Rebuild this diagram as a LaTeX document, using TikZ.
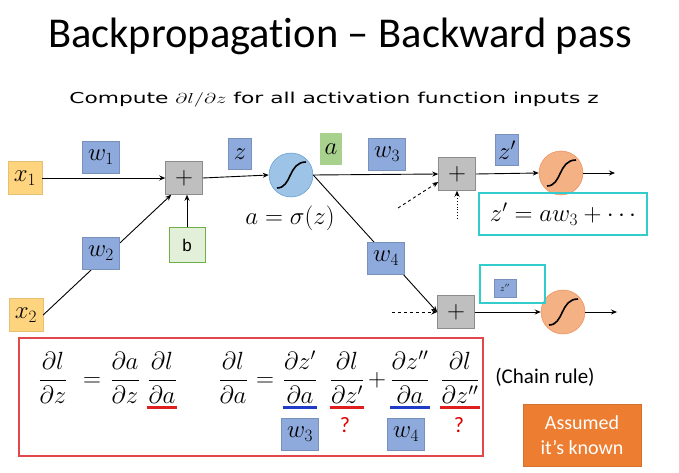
\documentclass[tikz,border=0pt]{standalone}
\usepackage{fontspec}
\setmainfont{Carlito}[Ligatures=NoCommon]
\newfontfamily\arialf{Liberation Sans}
\newfontfamily\subf{DejaVu Sans}
\usetikzlibrary{arrows.meta,calc}
\definecolor{wblue}{HTML}{8EA9DB}
\definecolor{xorange}{HTML}{FFD47F}
\definecolor{plusgray}{HTML}{BFBFBF}
\definecolor{bgreen}{HTML}{E2F0D9}
\definecolor{bgreenb}{HTML}{70AD47}
\definecolor{agreen}{HTML}{A9D18E}
\definecolor{sblue}{HTML}{9DC3E6}
\definecolor{sblueb}{HTML}{5B9BD5}
\definecolor{sorange}{HTML}{F4B183}
\definecolor{sorangeb}{HTML}{F08C5A}
\definecolor{cyanb}{HTML}{33CCCC}
\definecolor{redbox}{HTML}{E2474C}
\definecolor{ulred}{HTML}{E01E1E}
\definecolor{ulblue}{HTML}{1E3CC8}
\definecolor{assumed}{HTML}{ED7D31}
\definecolor{qred}{HTML}{E00000}
\newcommand{\mathbig}{\fontsize{24}{28}\selectfont}
\newcommand{\fracsize}{\fontsize{24}{28}\selectfont}
\begin{document}
\begin{tikzpicture}[x=1pt,y=-1pt,
  wbox/.style={fill=wblue,draw=wblue!85!black,line width=0.3pt,minimum width=37pt,minimum height=32pt,inner sep=0pt,font=\mathbig},
  xbox/.style={fill=xorange,draw=xorange!90!black,line width=0.3pt,minimum width=34pt,minimum height=33pt,inner sep=0pt,font=\mathbig},
  plusbox/.style={fill=plusgray,draw=black!45,line width=0.5pt,minimum width=37pt,minimum height=33pt,inner sep=0pt,font=\mathbig},
  sig/.style={circle,draw=sblueb,fill=sblue,line width=0.5pt,minimum size=44pt,inner sep=0pt},
  sigo/.style={circle,draw=sorangeb,fill=sorange,line width=0.5pt,minimum size=44pt,inner sep=0pt},
  arr/.style={-{Stealth[length=6pt,width=5pt]},line width=0.9pt},
  cyanbox/.style={draw=cyanb,line width=2.5pt,inner sep=0pt},
  frac/.style={anchor=base,inner sep=0pt,font=\fracsize},
  ulr/.style={draw=ulred,line width=2.5pt},
  ulb/.style={draw=ulblue,line width=2.5pt},
  qmark/.style={text=qred,font=\fontsize{22}{24}\selectfont}
]
\useasboundingbox (0,0) rectangle (679,473);
\fill[white] (0,0) rectangle (679,473);

% title
\node[font=\fontsize{42.5}{46}\selectfont] (title) at (340,36) {Backpropagation -- Backward pass};
\node[font=\subf\fontsize{15}{17}\selectfont] (sub) at (334,100) {\scalebox{1.45}[1]{Compute $\partial l/\partial z$ for all activation function inputs z}};

% nodes
\node[xbox] (x1) at (25,178) {$x_1$};
\node[xbox] (x2) at (26,315) {$x_2$};
\node[plusbox] (p1) at (184,178) {$+$};
\node[draw=bgreenb,fill=bgreen,line width=0.5pt,minimum width=36pt,minimum height=35pt,inner sep=0pt,font=\arialf\fontsize{17}{20}\selectfont] (b) at (187,245) {b};
\node[sig] (s1) at (291,175) {};
\node[plusbox] (p2) at (457,174) {$+$};
\node[sigo] (s2) at (561,173) {};
\node[plusbox] (p3) at (456,312) {$+$};
\node[sigo] (s3) at (563,312) {};
\coordinate (o2) at (615,173);
\coordinate (o3) at (617,312);
\coordinate (d1) at (398,208);
\coordinate (d2) at (457,219);
\coordinate (d3) at (392,312);

% sigmoid curves
\foreach \s in {s1,s2,s3}{
  \draw[line width=1.6pt] ([shift={(-14,13)}]\s.center) .. controls ([shift={(1,13)}]\s.center) and ([shift={(-3,-13)}]\s.center) .. ([shift={(15,-13)}]\s.center);
}

% connectors
\draw[arr] (x1) -- (p1);
\draw[arr] (x2.east) -- ([xshift=6pt]p1.south west);
\draw[arr] (b.north) -- (b.north |- p1.south);
\draw[arr] (p1.east) -- (s1.west);
\draw[arr] (s1.east) -- (p2.west);
\draw[arr] (s1.east) -- (p3.west);
\draw[arr,dashed] (d1) -- ([yshift=-8pt]p2.west);
\draw[arr,dotted] (d2) -- (p2.south);
\draw[arr] (p2.east) -- (s2.west);
\draw[arr] (s2.east) -- (o2);
\draw[arr,dashed] (d3) -- (p3.west);
\draw[arr] (p3.east) -- (s3.west);
\draw[arr] (s3.east) -- (o3);

% labels
\node[wbox] (w1) at (101,157) {$w_1$};
\node[wbox] (w2) at (101,253) {$w_2$};
\node[wbox,minimum width=23pt,minimum height=31pt] (z) at (240,154) {$z$};
\node[fill=agreen,minimum width=22pt,minimum height=32pt,inner sep=0pt,font=\mathbig] (a) at (331,149) {$a$};
\node[font=\mathbig] (aeq) at (290,218) {$a=\sigma(z)$};
\node[wbox] (w3) at (387,154) {$w_3$};
\node[wbox] (w4) at (386,258) {$w_4$};
\node[wbox,minimum width=23pt,minimum height=31pt] (zp) at (507,150) {$z'$};
\node[cyanbox,minimum width=168pt,minimum height=42pt,font=\mathbig] (zpeq) at (563,214) {$z' = aw_3 + \cdots$};
\node[cyanbox,minimum width=65pt,minimum height=38pt] (zppbox) at (512.5,284) {};
\node[wbox,minimum width=22pt,minimum height=18pt,font=\fontsize{9}{10}\selectfont] (zpp) at (505,288) {$z''$};

% chain rule box
\node[draw=redbox,line width=2.5pt,minimum width=464pt,minimum height=118pt,inner sep=0pt] (rbox) at (251,397) {};
\node[frac] (f1) at (53,386) {$\displaystyle\frac{\partial l}{\partial z}$};
\node[frac] (e1) at (92,386) {$=$};
\node[frac] (f2) at (125,386) {$\displaystyle\frac{\partial a}{\partial z}$};
\node[frac] (f3) at (162,386) {$\displaystyle\frac{\partial l}{\partial a}$};
\node[frac] (f4) at (233,386) {$\displaystyle\frac{\partial l}{\partial a}$};
\node[frac] (e2) at (265,386) {$=$};
\node[frac] (f5) at (300,386) {$\displaystyle\frac{\partial z'}{\partial a}$};
\node[frac] (f6) at (347,386) {$\displaystyle\frac{\partial l}{\partial z'}$};
\node[frac] (pl) at (377,386) {$+$};
\node[frac] (f7) at (410,386) {$\displaystyle\frac{\partial z''}{\partial a}$};
\node[frac] (f8) at (460,386) {$\displaystyle\frac{\partial l}{\partial z''}$};
\node[font=\fontsize{21}{24}\selectfont] (chain) at (545,377) {(Chain rule)};

\draw[ulr] ([yshift=-4pt]f3.south west) -- ([yshift=-4pt]f3.south east);
\draw[ulb] ([yshift=-4pt]f5.south west) -- ([yshift=-4pt]f5.south east);
\draw[ulr] ([yshift=-4pt]f6.south west) -- ([yshift=-4pt]f6.south east);
\draw[ulb] ([yshift=-4pt]f7.south west) -- ([yshift=-4pt]f7.south east);
\draw[ulr] ([yshift=-4pt]f8.south west) -- ([yshift=-4pt]f8.south east);

\node[wbox] (w3b) at (300,434) {$w_3$};
\node[wbox] (w4b) at (406,434) {$w_4$};
\node[qmark] (q1) at (345,425) {?};
\node[qmark] (q2) at (459,425) {?};

\node[fill=assumed,draw=assumed!90!black,minimum width=118pt,minimum height=62pt,inner sep=0pt,text=white,align=center,font=\fontsize{20}{25}\selectfont] (assumed) at (582,435) {Assumed\\it’s known};
\end{tikzpicture}
\end{document}
